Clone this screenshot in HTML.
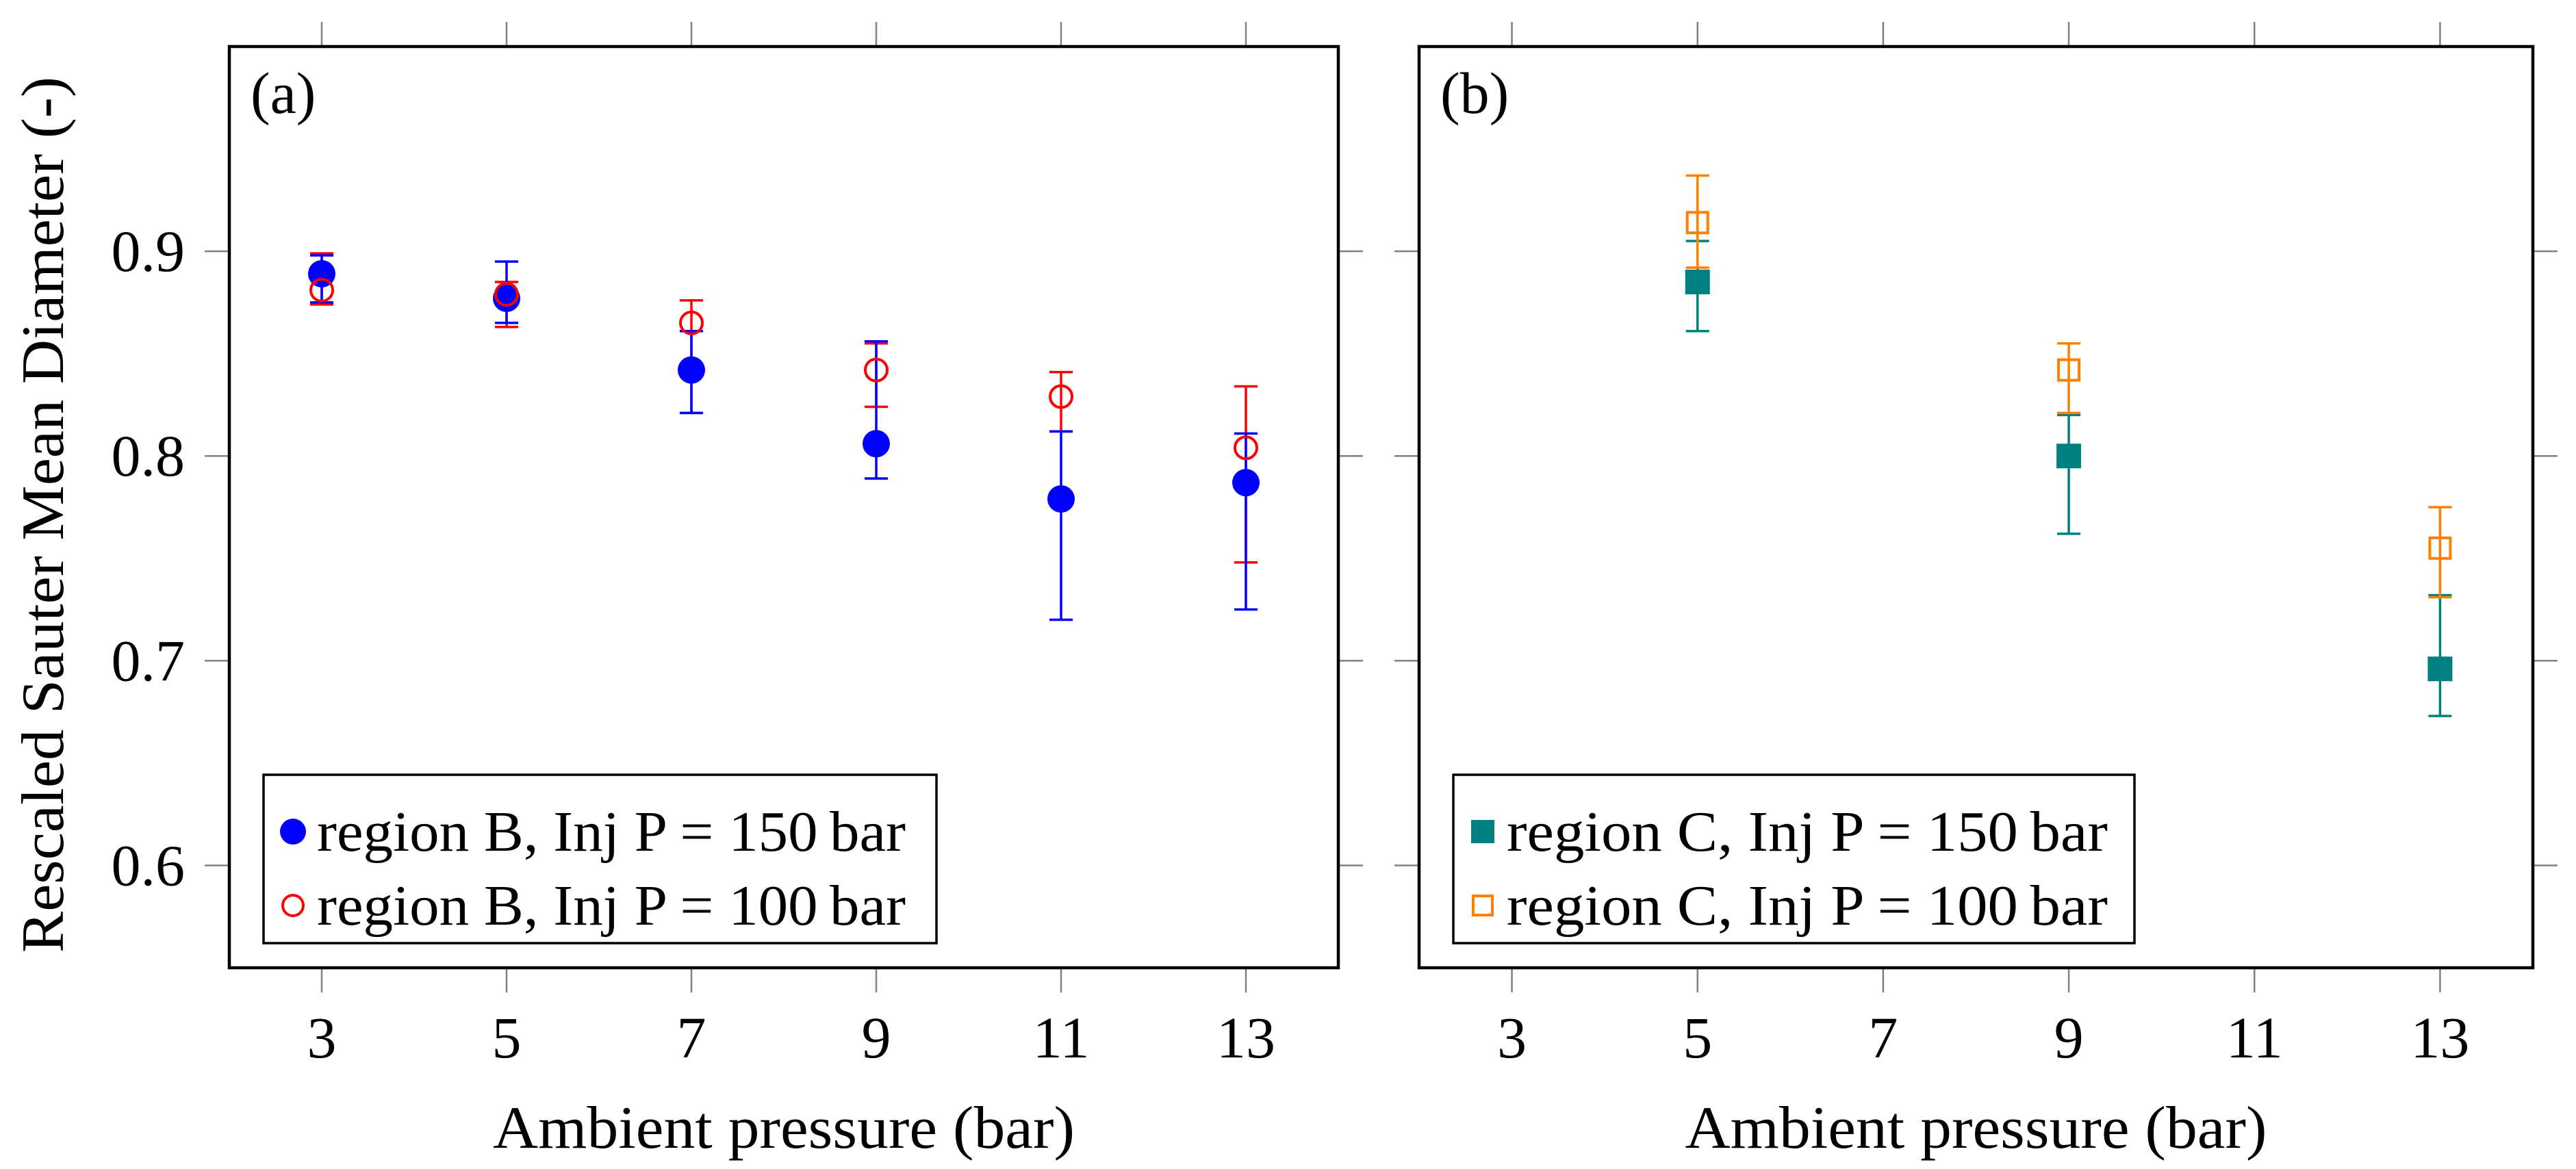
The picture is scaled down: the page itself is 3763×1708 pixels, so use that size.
<!DOCTYPE html>
<html><head><meta charset="utf-8"><style>
html,body{margin:0;padding:0;background:#fff;}
svg{display:block;font-family:"Liberation Serif",serif;}
</style></head><body>
<svg id="chart" width="3763" height="1708" viewBox="0 0 3763 1708" xmlns="http://www.w3.org/2000/svg"></svg>
<script>
const xTicks = [3, 5, 7, 9, 11, 13];
const yTicks = [0.6, 0.7, 0.8, 0.9];
const yTickLabels = ["0.6", "0.7", "0.8", "0.9"];
// panel a
const aX = [3, 5, 7, 9, 11, 13];
const b150 = [0.889, 0.877, 0.842, 0.806, 0.779, 0.787];
const b150Lo = [0.875, 0.865, 0.821, 0.789, 0.720, 0.725];
const b150Hi = [0.898, 0.895, 0.861, 0.856, 0.812, 0.811];
const b100 = [0.881, 0.879, 0.865, 0.842, 0.829, 0.804];
const b100Lo = [0.874, 0.863, 0.821, 0.824, 0.812, 0.748];
const b100Hi = [0.899, 0.885, 0.876, 0.855, 0.841, 0.834];
// panel b
const cX = [5, 9, 13];
const c150 = [0.885, 0.800, 0.696];
const c150Lo = [0.861, 0.762, 0.673];
const c150Hi = [0.905, 0.820, 0.732];
const c100 = [0.914, 0.842, 0.755];
const c100Lo = [0.892, 0.821, 0.731];
const c100Hi = [0.937, 0.855, 0.775];

const NS = "http://www.w3.org/2000/svg";
const svg = document.getElementById("chart");
function mk(tag, attrs, parent){
  const e = document.createElementNS(NS, tag);
  for (const k in attrs) e.setAttribute(k, attrs[k]);
  (parent || svg).appendChild(e);
  return e;
}
const Y0 = 68, Y1 = 1414;
function yS(v){ return Y1 - (v - 0.55) / (1.0 - 0.55) * (Y1 - Y0); }

function panel(L, R, letter, showY){
  const xS = v => L + (v - 2) / 12 * (R - L);
  const g = mk("g", {});
  
  
  xTicks.forEach((t, i) => {
    const x = xS(t);
    const tk = mk("line", {x1:x, x2:x, y1:Y0-36, y2:Y0, stroke:"#808080", "stroke-width":2.5}, g);
    
    
    const tb = mk("line", {x1:x, x2:x, y1:Y1, y2:Y1+36, stroke:"#808080", "stroke-width":2.5}, g);
    
    
    const lb = mk("text", {x:x, y:1545, "font-size":86, "text-anchor":"middle"}, g);
    lb.textContent = t;
    
    
  });
  yTicks.forEach((t, i) => {
    const y = yS(t);
    const tl = mk("line", {x1:L-36, x2:L, y1:y, y2:y, stroke:"#808080", "stroke-width":2.5}, g);
    
    
    const tr = mk("line", {x1:R, x2:R+36, y1:y, y2:y, stroke:"#808080", "stroke-width":2.5}, g);
    
    
    if (showY){
      const lb = mk("text", {x:L-65, y:y+29, "font-size":86, "text-anchor":"end"}, g);
      lb.textContent = yTickLabels[i];
      
      
    }
  });
  const fr = mk("rect", {x:L, y:Y0, width:R-L, height:Y1-Y0, fill:"none", stroke:"#000", "stroke-width":4.5}, g);
  
  
  const pl = mk("text", {x:L+31, y:165, "font-size":86}, g);
  pl.textContent = "(" + letter + ")";
  
  
  const xt = mk("text", {x:(L+R)/2, y:1677, "font-size":88, "text-anchor":"middle", textLength:850, lengthAdjust:"spacingAndGlyphs"}, g);
  xt.textContent = "Ambient pressure (bar)";
  
  
  return {g, xS};
}

function errbars(g, xS, xs, lo, hi, color, name){
  xs.forEach((xv, i) => {
    const x = xS(xv), yl = yS(lo[i]), yh = yS(hi[i]);
    const e = mk("path", {d:`M${x},${yl}V${yh}M${x-17},${yl}H${x+17}M${x-17},${yh}H${x+17}`, stroke:color, "stroke-width":3.5, fill:"none"}, g);
    
    
  });
}

const pa = panel(335, 1955, "a", true);
errbars(pa.g, pa.xS, aX, b100Lo, b100Hi, "#ff0000", "b100");
errbars(pa.g, pa.xS, aX, b150Lo, b150Hi, "#0000ff", "b150");
aX.forEach((xv, i) => {
  const c = mk("circle", {cx:pa.xS(xv), cy:yS(b150[i]), r:20, fill:"#0000ff"}, pa.g);
  
  
});
aX.forEach((xv, i) => {
  const c = mk("circle", {cx:pa.xS(xv), cy:yS(b100[i]), r:16, fill:"none", stroke:"#ff0000", "stroke-width":4}, pa.g);
  
  
});
const yt = mk("text", {x:0, y:0, "font-size":88, "text-anchor":"middle", transform:"translate(92,752) rotate(-90)", textLength:1280, lengthAdjust:"spacingAndGlyphs"});
yt.textContent = "Rescaled Sauter Mean Diameter (-)";



const pb = panel(2073, 3700, "b", false);
errbars(pb.g, pb.xS, cX, c150Lo, c150Hi, "#008080", "c150");
errbars(pb.g, pb.xS, cX, c100Lo, c100Hi, "#ff8000", "c100");
cX.forEach((xv, i) => {
  const s = mk("rect", {x:pb.xS(xv)-18, y:yS(c150[i])-18, width:36, height:36, fill:"#008080"}, pb.g);
  
  
});
cX.forEach((xv, i) => {
  const s = mk("rect", {x:pb.xS(xv)-15, y:yS(c100[i])-15, width:30, height:30, fill:"none", stroke:"#ff8000", "stroke-width":4}, pb.g);
  
  
});

function legend(x0, x1, entries){
  const g = mk("g", {});
  
  
  const r = mk("rect", {x:x0, y:1132, width:x1-x0, height:246, fill:"#fff", stroke:"#000", "stroke-width":3.5}, g);
  
  
  entries.forEach((en, i) => {
    const cy = 1215 + i * 108;
    const mx = x0 + 43;
    let m;
    if (en.shape === "dot") m = mk("circle", {cx:mx, cy:cy, r:19, fill:en.color}, g);
    else if (en.shape === "ring") m = mk("circle", {cx:mx, cy:cy, r:15, fill:"none", stroke:en.color, "stroke-width":4}, g);
    else if (en.shape === "sq") m = mk("rect", {x:mx-17, y:cy-17, width:34, height:34, fill:en.color}, g);
    else m = mk("rect", {x:mx-14, y:cy-14, width:28, height:28, fill:"none", stroke:en.color, "stroke-width":4}, g);
    
    
    const t = mk("text", {x:x0+78, y:cy+28, "font-size":84, textLength:en.w, lengthAdjust:"spacingAndGlyphs"}, g);
    t.textContent = en.label;
    
    
  });
}
legend(385, 1368, [
  {shape:"dot", color:"#0000ff", label:"region B, Inj P = 150\u2009bar", w:860},
  {shape:"ring", color:"#ff0000", label:"region B, Inj P = 100\u2009bar", w:860}
]);
legend(2123, 3118, [
  {shape:"sq", color:"#008080", label:"region C, Inj P = 150\u2009bar", w:878},
  {shape:"osq", color:"#ff8000", label:"region C, Inj P = 100\u2009bar", w:878}
]);
</script>
</body></html>
